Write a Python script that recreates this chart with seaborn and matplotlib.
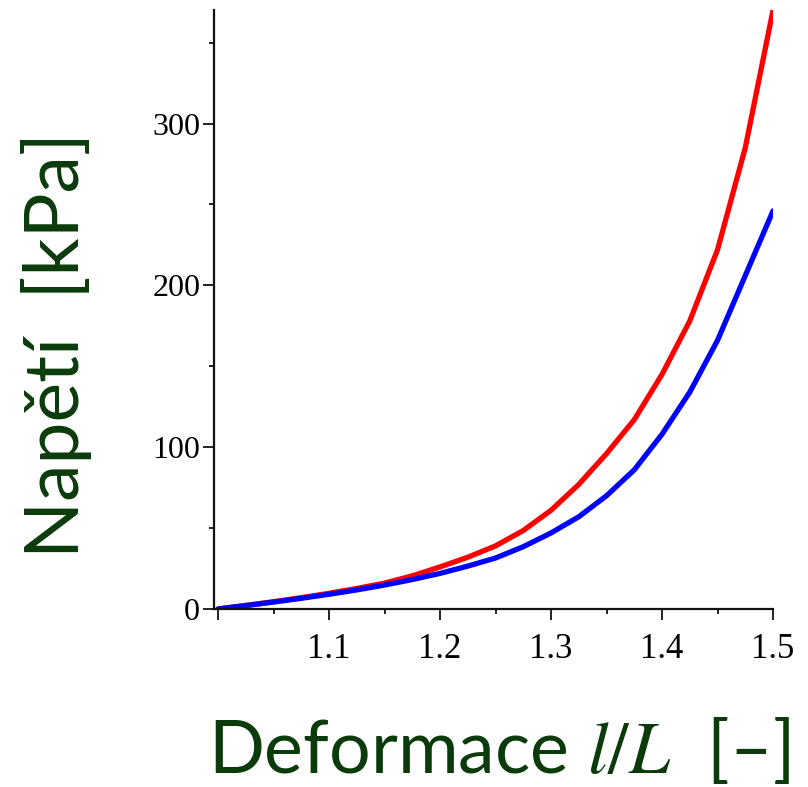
import numpy as np
import pandas as pd
import matplotlib
matplotlib.use("Agg")
import matplotlib.pyplot as plt
import seaborn as sns
from matplotlib.ticker import MultipleLocator

# stretch l/L [-] and stress [kPa]
stretch = [1.000, 1.025, 1.050, 1.075, 1.100, 1.125, 1.150, 1.175, 1.200, 1.225,
           1.250, 1.275, 1.300, 1.325, 1.350, 1.375, 1.400, 1.425, 1.450, 1.475, 1.500]
stress_red = [0, 2.2, 4.5, 7.0, 9.7, 12.7, 16.0, 20.5, 26.0, 32.0,
              39.0, 48.5, 61.0, 77.0, 96.0, 117.0, 145.0, 178.0, 222.0, 285.0, 370.0]
stress_blue = [0, 2.1, 4.3, 6.6, 9.1, 11.8, 14.8, 18.2, 22.0, 26.5,
               31.5, 38.5, 47.0, 57.0, 70.0, 86.0, 108.0, 134.0, 166.0, 206.0, 246.0]

sns.set_style("ticks")
plt.rcParams["mathtext.fontset"] = "stix"

label_green = "#0b3b0b"
tick_font = "Liberation Serif"
label_font = "Lato"

fig = plt.figure(figsize=(8.08, 7.87), dpi=100)
ax = fig.add_axes([0.265, 0.2262, 0.9567 - 0.265, 0.987 - 0.2262])

df = pd.DataFrame({"stretch": stretch, "red": stress_red, "blue": stress_blue})
sns.lineplot(data=df, x="stretch", y="red", color="#ff0000", lw=3.8, ax=ax)
sns.lineplot(data=df, x="stretch", y="blue", color="#0000ff", lw=3.8, ax=ax)

ax.set_xlim(0.9964, 1.5)
ax.set_ylim(0, 370)

ax.xaxis.set_major_locator(MultipleLocator(0.1))
ax.xaxis.set_minor_locator(MultipleLocator(0.05))
ax.yaxis.set_major_locator(MultipleLocator(100))
ax.yaxis.set_minor_locator(MultipleLocator(50))
ax.set_xticks([1.0, 1.1, 1.2, 1.3, 1.4, 1.5])
ax.set_xticklabels(["", "1.1", "1.2", "1.3", "1.4", "1.5"])

for s in ["top", "right"]:
    ax.spines[s].set_visible(False)
for s in ["left", "bottom"]:
    ax.spines[s].set_color("#111111")
    ax.spines[s].set_linewidth(1.6)

ax.tick_params(axis="both", which="major", length=8, width=1.3, color="#111111",
               labelcolor="black")
ax.tick_params(axis="both", which="minor", length=3.5, width=1.3, color="#111111")
ax.tick_params(axis="y", which="major", pad=2)
ax.tick_params(axis="x", which="major", pad=9)
for lab in ax.get_yticklabels():
    lab.set_fontfamily(tick_font)
    lab.set_fontsize(23)
for lab in ax.get_xticklabels():
    lab.set_fontfamily(tick_font)
    lab.set_fontsize(25)

ax.set_xlabel(r"Deformace $l/L$  [–]", fontsize=53, family=label_font,
              color=label_green)
ax.xaxis.set_label_coords(0.51, -0.177)
ax.set_ylabel("Napětí  [kPa]", fontsize=54, family=label_font,
              color=label_green)
ax.yaxis.set_label_coords(-0.218, 0.44)

fig.savefig("out.png", dpi=100, facecolor="white")
